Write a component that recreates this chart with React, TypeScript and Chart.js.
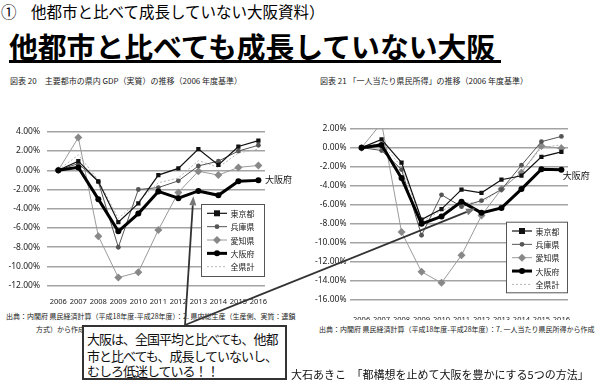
import React, { useEffect, useRef, useState } from 'react';
import { Chart, registerables } from 'chart.js';
Chart.register(...registerables);

// ---------- data ----------
const YEARS = ['2006', '2007', '2008', '2009', '2010', '2011', '2012', '2013', '2014', '2015', '2016'];
const NAMES = ['東京都', '兵庫県', '愛知県', '大阪府', '全県計'];

// 図表20 県内GDP（実質）伸び率 %
const GDP_TOKYO = [0, 0.95, -1.15, -5.4, -3.45, -0.5, 0.2, 2.2, 0.55, 2.47, 3.08];
const GDP_HYOGO = [0, 0.7, -1.2, -8.0, -2.0, -1.8, -1.1, 0.45, 0.95, 2.0, 2.6];
const GDP_AICHI = [0, 3.4, -6.85, -11.15, -10.6, -6.2, -2.3, -0.1, -0.5, 0.3, 0.5];
const GDP_OSAKA = [0, 0.3, -3.0, -6.35, -4.5, -2.2, -2.9, -2.15, -2.6, -1.15, -1.05];
const GDP_ALL = [0, 1.6, -1.0, -5.0, -3.2, -1.3, -0.8, 1.0, 0.3, 1.8, 2.2];

// 図表21 一人当たり県民所得 伸び率 %
const INC_TOKYO = [0, 0.87, -1.57, -7.55, -6.45, -4.4, -4.75, -3.37, -2.95, -0.97, -0.45];
const INC_HYOGO = [0, -0.3, -2.3, -9.2, -4.95, -6.2, -5.56, -4.4, -1.85, 0.63, 1.18];
const INC_AICHI = [0, 2.6, -8.87, -13.04, -14.2, -11.3, -7.13, -4.35, -2.6, 0.17, -0.07];
const INC_OSAKA = [0, 0.28, -3.2, -8.0, -7.23, -5.67, -6.85, -6.33, -4.35, -2.26, -2.33];
const INC_ALL = [0, 0.5, -2.0, -7.8, -6.6, -5.8, -5.8, -4.3, -2.6, 0.0, 0.3];

// arrow targets (data coordinates: year index, %)
const ARROW_GDP = [6.75, -2.7];
const ARROW_INC = [5.68, -6.4];

// ---------- styles ----------
const JP = '"Noto Sans CJK JP", "Noto Sans", sans-serif';
const STYLES = [
  { color: '#111', width: 1.2, point: 'rect', r: 3, pcolor: '#111', dash: [] as number[], order: 1 },
  { color: '#555', width: 1, point: 'circle', r: 2.4, pcolor: '#555', dash: [] as number[], order: 2 },
  { color: '#9a9a9a', width: 1, point: 'rectRot', r: 4, pcolor: '#888', dash: [] as number[], order: 3 },
  { color: '#000', width: 3, point: 'circle', r: 3, pcolor: '#000', dash: [] as number[], order: 0 },
  { color: '#b5b5b5', width: 1, point: 'circle', r: 0, pcolor: '#b5b5b5', dash: [2, 2], order: 4 },
];

function drawMarker(ctx: CanvasRenderingContext2D, style: string, x: number, y: number, r: number, color: string) {
  if (r <= 0) return;
  ctx.save();
  ctx.fillStyle = color;
  ctx.beginPath();
  if (style === 'rect') ctx.rect(x - r, y - r, 2 * r, 2 * r);
  else if (style === 'rectRot') {
    ctx.moveTo(x, y - r); ctx.lineTo(x + r, y); ctx.lineTo(x, y + r); ctx.lineTo(x - r, y); ctx.closePath();
  } else ctx.arc(x, y, r, 0, Math.PI * 2);
  ctx.fill();
  ctx.restore();
}

type Cfg = {
  left: number; top: number; width: number; height: number;
  area: { left: number; right: number; top: number; bottom: number };
  yMin: number; yMax: number; yTickPad: number; xTickPad: number;
  legendGap: number; legendW: number; legendH: number;
  labelDx: number; labelDy: number;
  series: number[][];
};

const CFG_GDP: Cfg = {
  left: 0, top: 120, width: 300, height: 190,
  area: { left: 46.7, right: 265, top: 128.3, bottom: 285.7 },
  yMin: -12, yMax: 4, yTickPad: 6.7, xTickPad: 3.8,
  legendGap: 8.7, legendW: 64, legendH: 73,
  labelDx: 6.7, labelDy: -0.6,
  series: [GDP_TOKYO, GDP_HYOGO, GDP_AICHI, GDP_OSAKA, GDP_ALL],
};
const CFG_INC: Cfg = {
  left: 300, top: 120, width: 300, height: 200,
  area: { left: 350, right: 568, top: 127.3, bottom: 300 },
  yMin: -16, yMax: 2, yTickPad: 3.5, xTickPad: 7,
  legendGap: 6.7, legendW: 62, legendH: 71.6,
  labelDx: 1.3, labelDy: 6,
  series: [INC_TOKYO, INC_HYOGO, INC_AICHI, INC_OSAKA, INC_ALL],
};

function makeChart(canvas: HTMLCanvasElement, cfg: Cfg) {
  const legendPlugin = {
    id: 'boxLegend',
    afterDraw(chart: any) {
      const ctx = chart.ctx as CanvasRenderingContext2D;
      const ca = chart.chartArea;
      const x0 = ca.right - cfg.legendW;
      const y1 = ca.bottom - cfg.legendGap;
      const y0 = y1 - cfg.legendH;
      ctx.save();
      ctx.fillStyle = '#fff';
      ctx.fillRect(x0, y0, cfg.legendW, cfg.legendH);
      ctx.strokeStyle = '#555';
      ctx.lineWidth = 1;
      ctx.strokeRect(x0 + 0.5, y0 + 0.5, cfg.legendW - 1, cfg.legendH - 1);
      NAMES.forEach((name, i) => {
        const st = STYLES[i];
        const yy = y0 + 9.3 + i * 13.35;
        ctx.save();
        ctx.strokeStyle = st.color;
        ctx.lineWidth = st.width;
        ctx.setLineDash(st.dash);
        ctx.beginPath();
        ctx.moveTo(x0 + 6, yy);
        ctx.lineTo(x0 + 26, yy);
        ctx.stroke();
        ctx.restore();
        drawMarker(ctx, st.point, x0 + 16, yy, st.r, st.pcolor);
        ctx.fillStyle = '#222';
        ctx.font = `8px ${JP}`;
        ctx.textBaseline = 'middle';
        ctx.textAlign = 'left';
        ctx.fillText(name, x0 + 29.5, yy + 0.5);
      });
      ctx.restore();
    },
  };
  const labelPlugin = {
    id: 'osakaLabel',
    afterDatasetsDraw(chart: any) {
      const meta = chart.getDatasetMeta(3);
      const pt = meta.data[meta.data.length - 1];
      const ctx = chart.ctx as CanvasRenderingContext2D;
      ctx.save();
      ctx.fillStyle = '#111';
      ctx.font = `9px ${JP}`;
      ctx.textBaseline = 'middle';
      ctx.textAlign = 'left';
      ctx.fillText(NAMES[3], pt.x + cfg.labelDx, pt.y + cfg.labelDy);
      ctx.restore();
    },
  };

  return new Chart(canvas, {
    type: 'line',
    data: {
      datasets: cfg.series.map((vals, i) => ({
        label: NAMES[i],
        data: vals.map((v, j) => ({ x: j, y: v })),
        borderColor: STYLES[i].color,
        borderWidth: STYLES[i].width,
        borderDash: STYLES[i].dash,
        pointStyle: STYLES[i].point as any,
        pointRadius: STYLES[i].r,
        pointBackgroundColor: STYLES[i].pcolor,
        pointBorderColor: STYLES[i].pcolor,
        pointBorderWidth: 0,
        tension: 0,
        fill: false,
        order: STYLES[i].order,
      })),
    },
    options: {
      responsive: false,
      animation: false,
      devicePixelRatio: 1,
      layout: {
        padding: {
          top: cfg.area.top - cfg.top,
          right: cfg.left + cfg.width - cfg.area.right,
          bottom: 0,
          left: 0,
        },
      },
      plugins: { legend: { display: false }, tooltip: { enabled: false } },
      scales: {
        x: {
          type: 'linear',
          min: -0.58,
          max: 10.33,
          afterFit: (s: any) => { s.height = cfg.top + cfg.height - cfg.area.bottom; },
          grid: { display: false },
          border: { display: false },
          ticks: {
            stepSize: 1,
            includeBounds: false,
            autoSkip: false,
            maxRotation: 0,
            padding: cfg.xTickPad,
            color: '#222',
            font: { family: '"Noto Sans", sans-serif', size: 7.5 },
            callback: (v: any) => (Number.isInteger(v) && YEARS[v] ? YEARS[v] : ''),
          },
        },
        y: {
          min: cfg.yMin,
          max: cfg.yMax,
          afterFit: (s: any) => { s.width = cfg.area.left - cfg.left; },
          grid: { color: '#a3a3a3', lineWidth: 1.5, drawTicks: false },
          border: { display: false },
          ticks: {
            stepSize: 2,
            padding: cfg.yTickPad,
            color: '#222',
            font: { family: '"Noto Sans", sans-serif', size: 8.5 },
            callback: (v: any) => Number(v).toFixed(2) + '%',
          },
        },
      },
    },
    plugins: [legendPlugin, labelPlugin],
  } as any);
}

function T(props: { x: number; cy: number; fs: number; bold?: boolean; ls?: number; color?: string; children: any }) {
  return (
    <div
      style={{
        position: 'absolute',
        left: props.x,
        top: props.cy - 0.556 * props.fs,
        fontSize: props.fs,
        lineHeight: 1,
        whiteSpace: 'nowrap',
        fontFamily: JP,
        fontWeight: props.bold ? 700 : 400,
        letterSpacing: props.ls ?? 0,
        color: props.color ?? '#000',
      }}
    >
      {props.children}
    </div>
  );
}

type Arrow = { sx: number; sy: number; tx: number; ty: number };

export default function App() {
  const ref1 = useRef<HTMLCanvasElement>(null);
  const ref2 = useRef<HTMLCanvasElement>(null);
  const [arrows, setArrows] = useState<Arrow[]>([]);

  useEffect(() => {
    const c1 = makeChart(ref1.current!, CFG_GDP);
    const c2 = makeChart(ref2.current!, CFG_INC);
    const tail = { x: 185, y: 325 };
    const a1 = {
      sx: tail.x, sy: tail.y,
      tx: CFG_GDP.left + (c1.scales.x as any).getPixelForValue(ARROW_GDP[0]),
      ty: CFG_GDP.top + (c1.scales.y as any).getPixelForValue(ARROW_GDP[1]),
    };
    const a2 = {
      sx: tail.x, sy: tail.y,
      tx: CFG_INC.left + (c2.scales.x as any).getPixelForValue(ARROW_INC[0]),
      ty: CFG_INC.top + (c2.scales.y as any).getPixelForValue(ARROW_INC[1]),
    };
    setArrows([a1, a2]);
    return () => { c1.destroy(); c2.destroy(); };
  }, []);

  const arrowEls = arrows.map((a, i) => {
    const dx = a.tx - a.sx, dy = a.ty - a.sy;
    const len = Math.hypot(dx, dy);
    const ux = dx / len, uy = dy / len;
    const nx = -uy, ny = ux;
    const bx = a.tx - 9 * ux, by = a.ty - 9 * uy;
    const pts = `${a.tx},${a.ty} ${bx + 3.5 * nx},${by + 3.5 * ny} ${bx - 3.5 * nx},${by - 3.5 * ny}`;
    return (
      <g key={i}>
        <line x1={a.sx} y1={a.sy} x2={bx} y2={by} stroke="#333" strokeWidth={1.8} />
        <polygon points={pts} fill="#777" />
      </g>
    );
  });

  return (
    <div style={{ position: 'absolute', left: 0, top: 0, width: 600, height: 384, background: '#fff', overflow: 'hidden' }}>
      <T x={1} cy={12.7} fs={15.5}>①</T>
      <T x={31} cy={12.7} fs={15.5}>他都市と比べて成長していない大阪資料）</T>
      <T x={9} cy={48.3} fs={28.8} bold>他都市と比べても成長していない大阪</T>
      <div style={{ position: 'absolute', left: 9, top: 60, width: 492, height: 2.5, background: '#000' }} />
      <T x={10} cy={81.7} fs={8} color="#222">図表 20　主要都市の県内 GDP（実質）の推移（2006 年度基準）</T>
      <T x={320} cy={81.7} fs={8} color="#222">図表 21 「一人当たり県民所得」の推移（2006 年度基準）</T>

      <canvas ref={ref1} width={CFG_GDP.width} height={CFG_GDP.height}
        style={{ position: 'absolute', left: CFG_GDP.left, top: CFG_GDP.top, width: CFG_GDP.width, height: CFG_GDP.height }} />
      <canvas ref={ref2} width={CFG_INC.width} height={CFG_INC.height}
        style={{ position: 'absolute', left: CFG_INC.left, top: CFG_INC.top, width: CFG_INC.width, height: CFG_INC.height }} />

      <T x={6} cy={317} fs={7} color="#222">出典：内閣府 県民経済計算（平成18年度-平成28年度）：2. 県内総生産（生産側、実質：連鎖</T>
      <T x={36} cy={330} fs={7} color="#222">方式）から作成</T>
      <T x={319} cy={330} fs={7} color="#222">出典：内閣府 県民経済計算（平成18年度-平成28年度）：7. 一人当たり県民所得から作成</T>

      <svg width={600} height={384} style={{ position: 'absolute', left: 0, top: 0 }}>{arrowEls}</svg>

      <div style={{ position: 'absolute', left: 82, top: 325, width: 205, height: 55, boxSizing: 'border-box', border: '2px solid #333', background: '#fff' }} />
      <T x={87} cy={339.3} fs={13} ls={-1} color="#111">大阪は、全国平均と比べても、他都</T>
      <T x={87} cy={356} fs={13} ls={-1} color="#111">市と比べても、成長していないし、</T>
      <T x={87} cy={371.7} fs={13} ls={-1} color="#111">むしろ低迷している！！</T>

      <T x={291} cy={375} fs={11} color="#111">大石あきこ　「都構想を止めて大阪を豊かにする5つの方法」</T>
    </div>
  );
}
